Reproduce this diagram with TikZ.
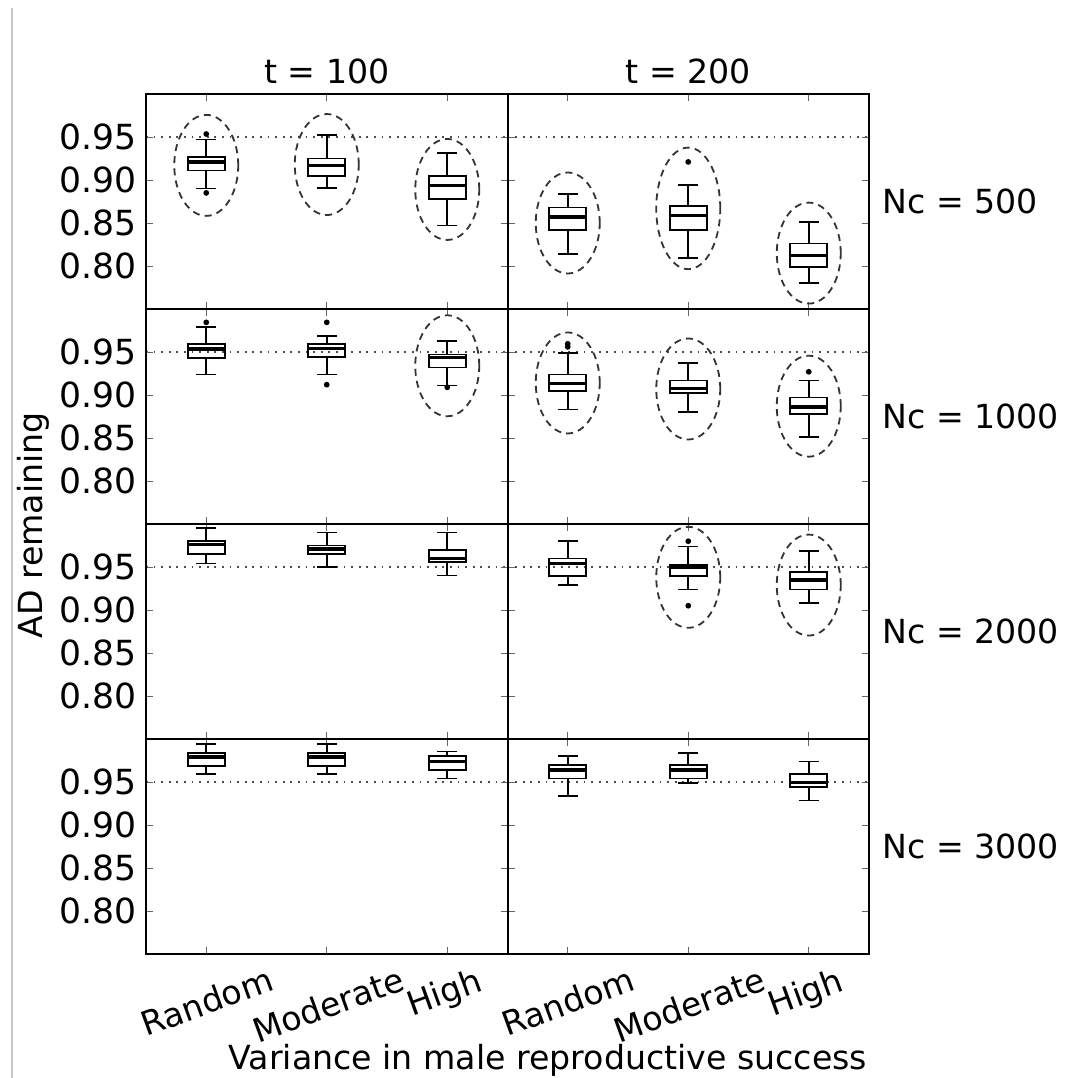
\documentclass[tikz,border=0pt]{standalone}
\usepackage{fontspec}
\setmainfont{DejaVu Sans}
\usepackage{tikz}
\newcommand{\labfont}{\fontsize{16.6pt}{20pt}\selectfont}
\newcommand{\tickfont}{\fontsize{17.3pt}{20pt}\selectfont}
\tikzset{
  frameline/.style={draw=black,line width=1pt},
  tickmark/.style={draw=black!60,line width=0.5pt},
  refline/.style={draw=black!70,line width=0.8pt,dash pattern=on 0.9pt off 2.9pt},
  whisker/.style={draw=black,line width=0.85pt},
  boxline/.style={draw=black,line width=0.85pt},
  medianline/.style={draw=black,line width=1.6pt},
  ring/.style={draw=black!80,line width=0.9pt,dash pattern=on 3.5pt off 2.6pt},
  ticklabel/.style={font=\tickfont,anchor=east,inner sep=0pt},
  catlabel/.style={font=\labfont,rotate=20,inner sep=0pt,text height=0.76em,text depth=0.24em,xshift=-8pt},
}
% one box: x, low whisker, q1, median, q3, high whisker
\newcommand{\bxp}[6]{%
  \draw[whisker] (#1,#2) -- (#1,#3) (#1,#5) -- (#1,#6);
  \draw[whisker] ([xshift=-5pt]#1,#2) -- ([xshift=5pt]#1,#2);
  \draw[whisker] ([xshift=-5pt]#1,#6) -- ([xshift=5pt]#1,#6);
  \draw[boxline] ([xshift=-9.25pt]#1,#3) rectangle ([xshift=9.25pt]#1,#5);
  \draw[medianline] ([xshift=-9.25pt]#1,#4) -- ([xshift=9.25pt]#1,#4);
}
\newcommand{\flier}[2]{\fill (#1,#2) circle[radius=1.45pt];}
\newcommand{\ring}[3][25.25pt]{\draw[ring] (#2,#3) ellipse[x radius=16pt,y radius=#1];}
\newcommand{\panelframe}{%
  \draw[refline] (0.5,0.95) -- (3.5,0.95);
  \foreach \t in {1,2,3} {
    \draw[tickmark] (\t,0.75) -- ++(0pt,3.5pt);
    \draw[tickmark] (\t,1.0) -- ++(0pt,-3.5pt);
  }
  \foreach \v in {0.80,0.85,0.90,0.95} {
    \draw[tickmark] (0.5,\v) -- ++(3.5pt,0pt);
    \draw[tickmark] (3.5,\v) -- ++(-3.5pt,0pt);
  }
  \draw[frameline] (0.5,0.75) rectangle (3.5,1.0);
}
\newcommand{\yticks}{%
  \foreach \v in {0.80,0.85,0.90,0.95}
    \node [ticklabel] at ([xshift=-4.5pt]0.5,\v) {\v};
}
\begin{document}
\begin{tikzpicture}
\useasboundingbox (0pt,0pt) rectangle (537pt,-539pt);
\draw[draw=black!22,line width=1pt] (6pt,-4pt) -- (6pt,-539pt);
%
% Nc = 500
\begin{scope}[shift={(42.875pt,-477pt)},x=60.25pt,y=430pt]
\panelframe \yticks
\bxp{1}{0.890}{0.911}{0.921}{0.927}{0.947}
\flier{1}{0.9535} \flier{1}{0.885} \ring{1}{0.917}
\bxp{2}{0.891}{0.905}{0.917}{0.925}{0.952}
\ring{2}{0.918}
\bxp{3}{0.847}{0.878}{0.894}{0.905}{0.931}
\ring{3}{0.889}
\node (t100) [font=\labfont,anchor=base] at ([yshift=5.25pt]2,1.0) {t = 100};
\end{scope}
\begin{scope}[shift={(223.625pt,-477pt)},x=60.25pt,y=430pt]
\panelframe
\bxp{1}{0.814}{0.842}{0.857}{0.868}{0.884}
\ring{1}{0.850}
\bxp{2}{0.809}{0.842}{0.859}{0.870}{0.894}
\flier{2}{0.921} \ring[30.4pt]{2}{0.867}
\bxp{3}{0.780}{0.799}{0.812}{0.826}{0.851}
\ring{3}{0.815}
\node (t200) [font=\labfont,anchor=base] at ([yshift=5.25pt]2,1.0) {t = 200};
\node (nc500) [font=\labfont,anchor=west,inner sep=0pt] at ([xshift=6.5pt]3.5,0.875) {Nc = 500};
\end{scope}
%
% Nc = 1000
\begin{scope}[shift={(42.875pt,-584.5pt)},x=60.25pt,y=430pt]
\panelframe \yticks
\bxp{1}{0.924}{0.943}{0.9535}{0.959}{0.979}
\flier{1}{0.9845}
\bxp{2}{0.924}{0.944}{0.954}{0.959}{0.969}
\flier{2}{0.9845} \flier{2}{0.912}
\bxp{3}{0.911}{0.932}{0.944}{0.947}{0.963}
\flier{3}{0.909} \ring{3}{0.934}
\end{scope}
\begin{scope}[shift={(223.625pt,-584.5pt)},x=60.25pt,y=430pt]
\panelframe
\bxp{1}{0.883}{0.905}{0.913}{0.924}{0.9485}
\flier{1}{0.9595} \flier{1}{0.956} \ring{1}{0.914}
\bxp{2}{0.8805}{0.902}{0.908}{0.917}{0.9376}
\ring{2}{0.907}
\bxp{3}{0.8515}{0.878}{0.886}{0.897}{0.917}
\flier{3}{0.927} \ring{3}{0.887}
\node (nc1000) [font=\labfont,anchor=west,inner sep=0pt] at ([xshift=6.5pt]3.5,0.875) {Nc = 1000};
\end{scope}
%
% Nc = 2000
\begin{scope}[shift={(42.875pt,-692pt)},x=60.25pt,y=430pt]
\panelframe \yticks
\bxp{1}{0.954}{0.965}{0.976}{0.980}{0.995}
\bxp{2}{0.950}{0.965}{0.971}{0.975}{0.990}
\bxp{3}{0.940}{0.956}{0.960}{0.970}{0.990}
\node (ylab) [font=\labfont,rotate=90,anchor=base] at ([xshift=-51.75pt]0.5,0.9985) {AD remaining};
\end{scope}
\begin{scope}[shift={(223.625pt,-692pt)},x=60.25pt,y=430pt]
\panelframe
\bxp{1}{0.929}{0.9395}{0.954}{0.960}{0.980}
\bxp{2}{0.924}{0.9395}{0.9497}{0.952}{0.974}
\flier{2}{0.980} \flier{2}{0.905} \ring{2}{0.938}
\bxp{3}{0.9085}{0.924}{0.935}{0.944}{0.969}
\ring{3}{0.929}
\node (nc2000) [font=\labfont,anchor=west,inner sep=0pt] at ([xshift=6.5pt]3.5,0.875) {Nc = 2000};
\end{scope}
%
% Nc = 3000
\begin{scope}[shift={(42.875pt,-799.5pt)},x=60.25pt,y=430pt]
\panelframe \yticks
\bxp{1}{0.9595}{0.969}{0.979}{0.984}{0.994}
\bxp{2}{0.9595}{0.969}{0.979}{0.984}{0.994}
\bxp{3}{0.954}{0.964}{0.974}{0.980}{0.9855}
\node (rand1) [catlabel] at (1,0.75) [yshift=-26pt] {Random};
\node (mod1) [catlabel] at (2,0.75) [yshift=-27.7pt] {Moderate};
\node (high1) [catlabel] at (3,0.75) [yshift=-20.75pt] {High};
\end{scope}
\begin{scope}[shift={(223.625pt,-799.5pt)},x=60.25pt,y=430pt]
\panelframe
\bxp{1}{0.9335}{0.954}{0.964}{0.970}{0.980}
\bxp{2}{0.9486}{0.954}{0.964}{0.970}{0.984}
\bxp{3}{0.9285}{0.944}{0.949}{0.9595}{0.974}
\node (nc3000) [font=\labfont,anchor=west,inner sep=0pt] at ([xshift=6.5pt]3.5,0.875) {Nc = 3000};
\node (rand2) [catlabel] at (1,0.75) [yshift=-26pt] {Random};
\node (mod2) [catlabel] at (2,0.75) [yshift=-27.7pt] {Moderate};
\node (high2) [catlabel] at (3,0.75) [yshift=-20.75pt] {High};
\end{scope}
%
\node (xlab) [font=\labfont,anchor=base,inner sep=0pt] at (274pt,-534.5pt) {Variance in male reproductive success};
\end{tikzpicture}
\end{document}
